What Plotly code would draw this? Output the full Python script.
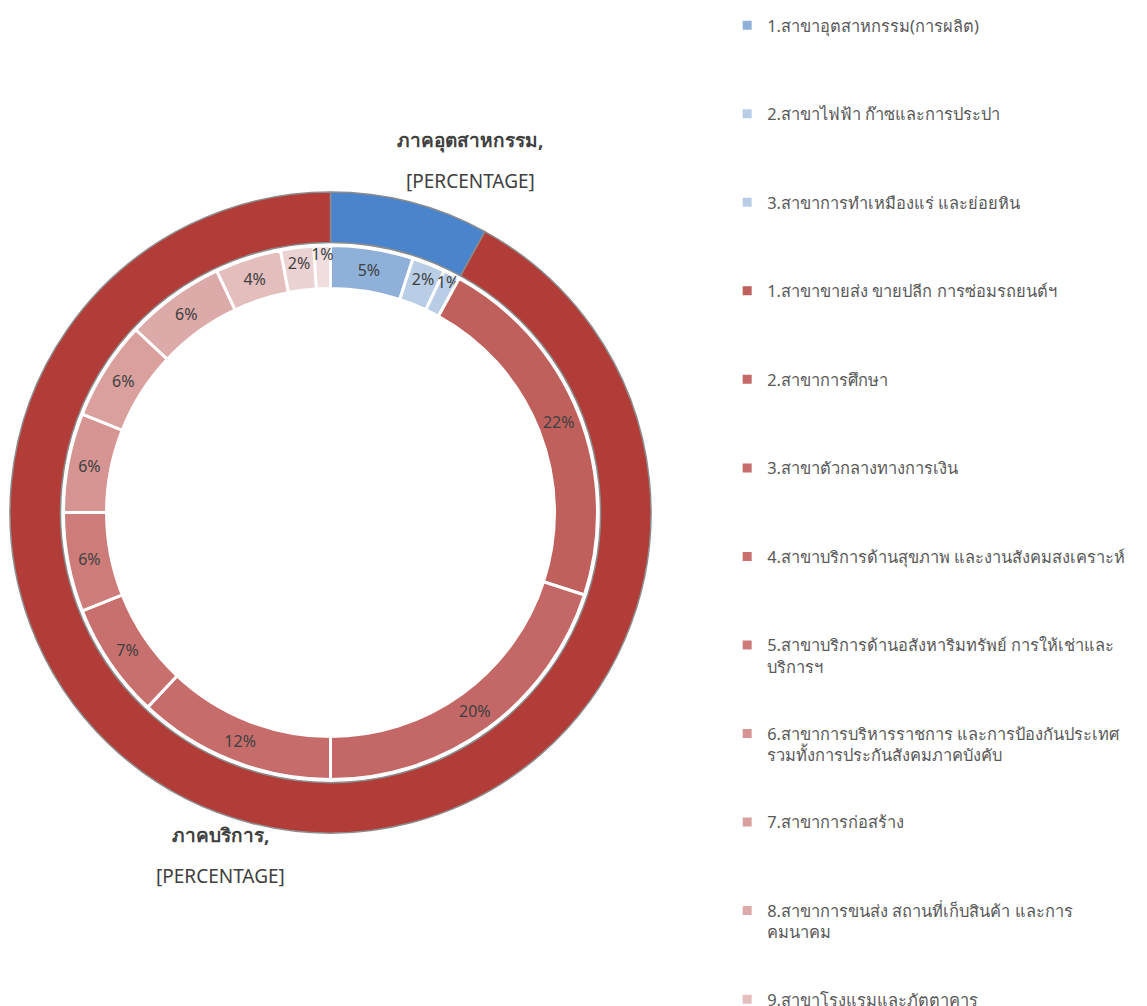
import plotly.graph_objects as go

# outer ring: the two sectors
sector_names = ["ภาคอุตสาหกรรม", "ภาคบริการ"]
sector_values = [8, 92]
sector_colors = ["#4a84cc", "#b23c38"]
sector_label_value = "[PERCENTAGE]"

# inner ring: branches of each sector
branch_names = [
    "1.สาขาอุตสาหกรรม(การผลิต)",
    "2.สาขาไฟฟ้า ก๊าซและการประปา",
    "3.สาขาการทำเหมืองแร่ และย่อยหิน",
    "1.สาขาขายส่ง ขายปลีก การซ่อมรถยนต์ฯ",
    "2.สาขาการศึกษา",
    "3.สาขาตัวกลางทางการเงิน",
    "4.สาขาบริการด้านสุขภาพ และงานสังคมสงเคราะห์",
    "5.สาขาบริการด้านอสังหาริมทรัพย์ การให้เช่าและ<br>บริการฯ",
    "6.สาขาการบริหารราชการ และการป้องกันประเทศ<br>รวมทั้งการประกันสังคมภาคบังคับ",
    "7.สาขาการก่อสร้าง",
    "8.สาขาการขนส่ง สถานที่เก็บสินค้า และการ<br>คมนาคม",
    "9.สาขาโรงแรมและภัตตาคาร",
    "10.สาขาศิลปะ ความบันเทิง และนันทนาการ",
    "11.สาขากิจกรรมบริการด้านอื่นๆ",
]
branch_values = [5, 2, 1, 22, 20, 12, 7, 6, 6, 6, 6, 4, 2, 1]
branch_colors = [
    "#8fb0d8", "#b9cde6", "#b9cde6",
    "#bf605d", "#c36866", "#c66c6a", "#c8706e", "#cd7c7a", "#d69492",
    "#d9a09e", "#dcaaa8", "#e3bebd", "#ecd3d3", "#f0dddd",
]

W, H = 1147, 1006
# page body adds an 8px offset, so the centre is set 8px up/left
cx, cy = 322.5, 504.5
R_OUT, R_OUT_HOLE = 320.5, 270
R_IN, R_IN_HOLE = 267, 224


def dom(r):
    return dict(x=[(cx - r) / W, (cx + r) / W],
                y=[(H - cy - r) / H, (H - cy + r) / H])


# pad legend labels so every entry takes the same slot height
def pad(name, lines=4):
    n = name.count("<br>") + 1
    return name + "<br> " * (lines - n)


fig = go.Figure()

fig.add_trace(go.Pie(
    labels=sector_names,
    values=sector_values,
    hole=R_OUT_HOLE / R_OUT,
    domain=dom(R_OUT),
    sort=False,
    direction="clockwise",
    rotation=0,
    marker=dict(colors=sector_colors, line=dict(color="#8c8c8c", width=1.5)),
    textinfo="none",
    showlegend=False,
))

fig.add_trace(go.Pie(
    labels=[pad(n) for n in branch_names],
    values=branch_values,
    hole=R_IN_HOLE / R_IN,
    domain=dom(R_IN),
    sort=False,
    direction="clockwise",
    rotation=0,
    marker=dict(colors=branch_colors, line=dict(color="white", width=3)),
    texttemplate="%{percent:.0%}",
    textposition="inside",
    insidetextorientation="horizontal",
    textfont=dict(size=16, color="#404040"),
))

# sector labels (name line and value line, spaced like the original)
label_pos = [(462, 132), (212, 827)]
for name, (px_, py_) in zip(sector_names, label_pos):
    fig.add_annotation(
        x=px_ / W, y=1 - py_ / H, xref="paper", yref="paper",
        xanchor="center", yanchor="middle",
        text=f"<b>{name},</b>", showarrow=False,
        font=dict(size=19, color="#404040"),
    )
    fig.add_annotation(
        x=px_ / W, y=1 - (py_ + 41) / H, xref="paper", yref="paper",
        xanchor="center", yanchor="middle",
        text=sector_label_value, showarrow=False,
        font=dict(size=19, color="#404040"),
    )

fig.update_layout(
    width=W, height=H,
    margin=dict(l=0, r=0, t=0, b=0),
    paper_bgcolor="white",
    font=dict(family="Noto Sans, Tahoma, sans-serif", color="#595959"),
    uniformtext=dict(minsize=16, mode="show"),
    legend=dict(
        x=0.627, y=1.0, xanchor="left", yanchor="top",
        valign="top",
        font=dict(size=16.45, color="#595959"),
        maxheight=2000,
    ),
)

fig.write_html("out.html")
